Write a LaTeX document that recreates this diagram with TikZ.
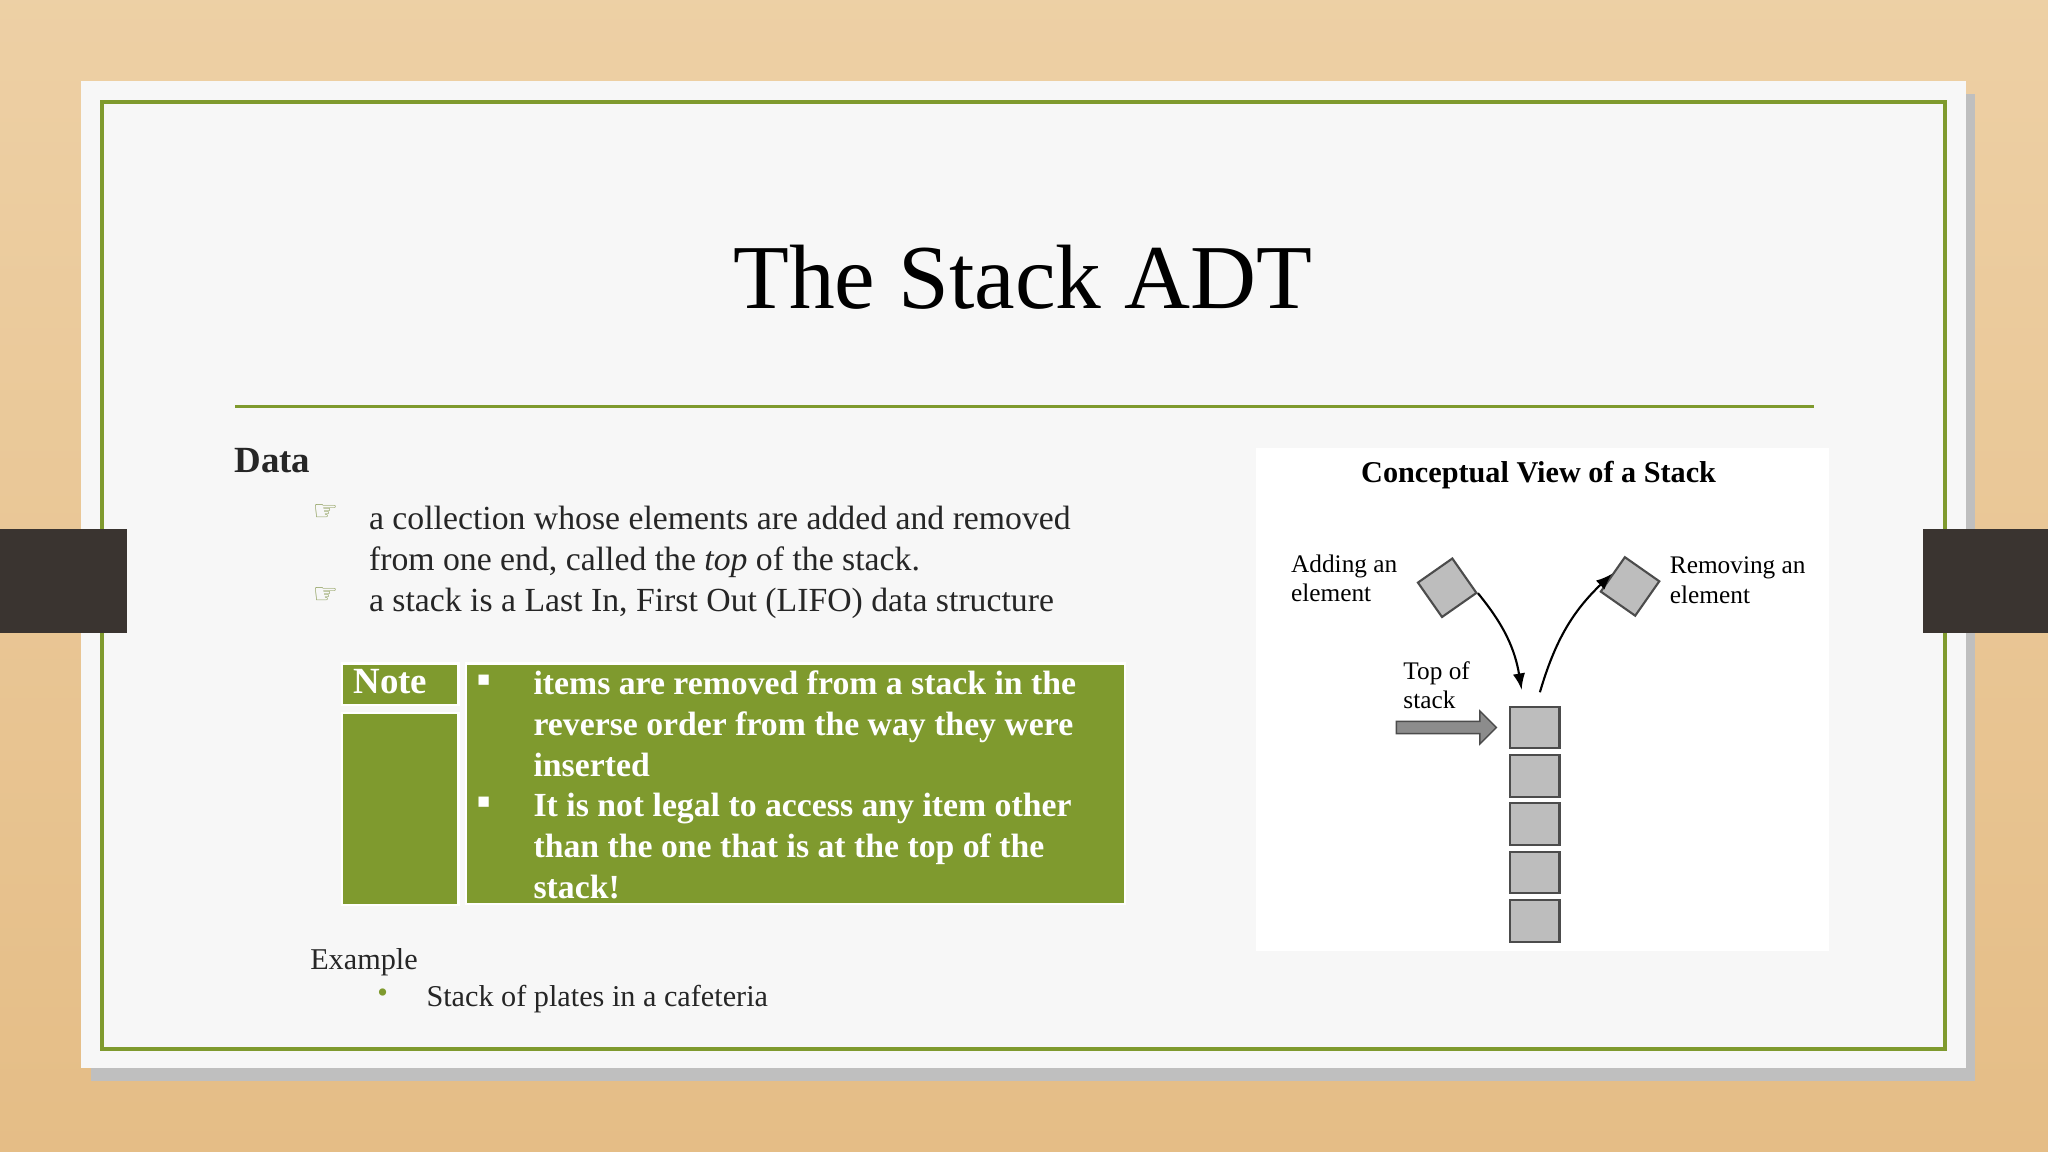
\documentclass[tikz,border=0pt]{standalone}
\usepackage{fontspec}
\setmainfont{Liberation Serif}
\newfontfamily\symfont{DejaVu Sans}
\usetikzlibrary{shapes.arrows,positioning}
\definecolor{olive}{HTML}{7F9A2E}
\definecolor{wood}{HTML}{E9C48E}
\definecolor{tabc}{HTML}{3A3430}
\definecolor{boxgray}{HTML}{BDBDBD}
\begin{document}
\begin{tikzpicture}[x=0.013061cm,y=-0.013061cm]
	\tikzstyle{Body}	= [anchor=north west, inner sep=0pt, align=left, font=\fontsize{9.6}{11.6}\selectfont, text=black!85]
	\tikzstyle{NoteText}	= [anchor=north west, inner sep=0pt, align=left, text=white, font=\bfseries\fontsize{9.6}{11.6}\selectfont]
	\tikzstyle{Hand}	= [anchor=north west, inner sep=0pt, text=olive!70!gray, font=\symfont\fontsize{8}{10}\selectfont]
	\tikzstyle{Cell}	= [fill=olive, draw=white, line width=0.6pt]
	\tikzstyle{Plate}	= [draw=black!70, fill=boxgray, line width=0.6pt]
	\tikzstyle{Small}	= [anchor=north west, inner sep=0pt, align=left, font=\fontsize{7.2}{8.4}\selectfont]

	% background and slide
	\useasboundingbox (0,0) rectangle (1568,882);
	\shade[top color=wood!80, bottom color=wood!90!brown] (0,0) rectangle (1568,882);
	\fill[black!25] (70,72) rectangle (1512,828);
	\fill[white!97!black] (62,62) rectangle (1505,818);
	\draw[olive, line width=1pt] (78,78) rectangle (1489,803);
	\fill[tabc] (0,405) rectangle (97,485);
	\fill[tabc] (1472,405) rectangle (1568,485);

	% title
	\node (title) at (783,212) {\fontsize{26}{30}\selectfont The Stack ADT};
	\draw[olive, line width=0.8pt] (180,311) -- (1389,311);

	% data
	\node (data) at (179,343) [Body] {\bfseries\fontsize{10.5}{12}\selectfont Data};
	\node (h1) at (239,386) [Hand] {☞};
	\node (t1) at (282,387) [Body] {a collection whose elements are added and removed\\from one end, called the \textit{top} of the stack.};
	\node (h2) at (239,449) [Hand] {☞};
	\node (t2) at (282,450) [Body] {a stack is a Last In, First Out (LIFO) data structure};

	% note table
	\fill[Cell] (262,508) rectangle (351,540);
	\fill[Cell] (262,546) rectangle (351,693);
	\fill[Cell] (357,508) rectangle (861,692);
	\node (note) at (270,512) [NoteText] {\fontsize{10.5}{12}\selectfont Note};
	\node (b1) at (365,516) [NoteText] {\fontsize{6}{8}\selectfont ■};
	\node (n1) at (408,513) [NoteText] {items are removed from a stack in the\\reverse order from the way they were\\inserted};
	\node (b2) at (365,610) [NoteText] {\fontsize{6}{8}\selectfont ■};
	\node (n2) at (408,607) [NoteText] {It is not legal to access any item other\\than the one that is at the top of the\\stack!};

	% example
	\node (ex) at (237,726) [Body, font=\fontsize{8.6}{10}\selectfont] {Example};
	\node (dot) at (293,762) [text=olive, inner sep=0pt, font=\fontsize{8.6}{10}\selectfont] {•};
	\node (ex1) at (326,754) [Body, font=\fontsize{8.6}{10}\selectfont] {Stack of plates in a cafeteria};

	% conceptual view
	\fill[white] (962,343) rectangle (1400,728);
	\node (cv) at (1178,364) {\bfseries\fontsize{8.6}{10}\selectfont Conceptual View of a Stack};
	\foreach \i in {0,...,4}
		\draw[Plate] (1156,541+37*\i) rectangle (1194,573+37*\i);
	\coordinate (top) at (1175,541);
	\node (add) at (1108,450) [Plate, minimum size=0.42cm, rotate=35, inner sep=0pt] {};
	\node (rem) at (1248,449) [Plate, minimum size=0.42cm, rotate=-35, inner sep=0pt] {};
	\node (addl) at (988,424) [Small] {Adding an\\element};
	\node (reml) at (1278,426) [Small] {Removing an\\element};
	\node (topl) at (1074,506) [Small] {Top of\\stack};
	\node (push) at (1105,557) [single arrow, draw=black!70, fill=black!45, minimum width=0.33cm, single arrow head extend=2pt, minimum height=1cm, inner sep=1pt] {};
	\draw[-latex, line width=0.6pt] (add.south east) to[bend left=15] (1165,528);
	\draw[-latex, line width=0.6pt] (1179,530) to[bend left=15] (rem.west);
\end{tikzpicture}
\end{document}
